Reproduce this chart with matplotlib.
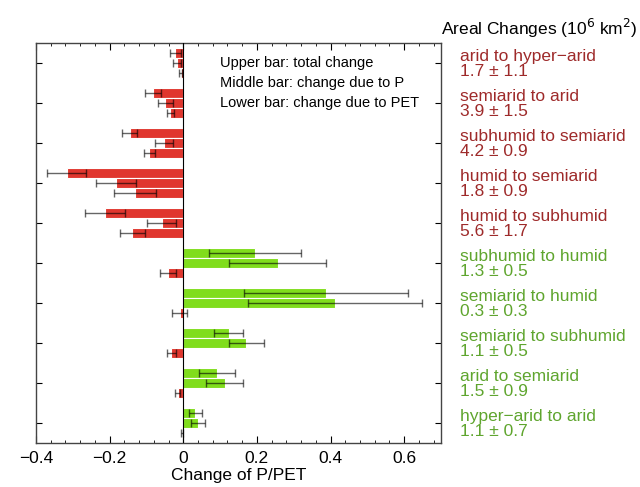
import matplotlib
matplotlib.use("Agg")
import matplotlib.pyplot as plt
import matplotlib.transforms as mtransforms
from matplotlib.ticker import AutoMinorLocator, FixedLocator, FixedFormatter

plt.rcParams['font.family'] = ['Liberation Sans', 'DejaVu Sans']

# transitions, top to bottom
names = ["arid to hyper\u2212arid", "semiarid to arid", "subhumid to semiarid",
         "humid to semiarid", "humid to subhumid", "subhumid to humid",
         "semiarid to humid", "semiarid to subhumid", "arid to semiarid",
         "hyper\u2212arid to arid"]
areas = ["1.7 \u00b1 1.1", "3.9 \u00b1 1.5", "4.2 \u00b1 0.9", "1.8 \u00b1 0.9", "5.6 \u00b1 1.7",
         "1.3 \u00b1 0.5", "0.3 \u00b1 0.3", "1.1 \u00b1 0.5", "1.5 \u00b1 0.9", "1.1 \u00b1 0.7"]
drying = [True, True, True, True, True, False, False, False, False, False]

total = [-0.022, -0.082, -0.146, -0.317, -0.213, 0.194, 0.388, 0.123, 0.092, 0.033]
total_err = [0.015, 0.021, 0.020, 0.052, 0.055, 0.125, 0.222, 0.040, 0.048, 0.017]
due_p = [-0.018, -0.049, -0.052, -0.182, -0.059, 0.256, 0.412, 0.171, 0.112, 0.041]
due_p_err = [0.011, 0.020, 0.025, 0.054, 0.040, 0.131, 0.237, 0.047, 0.049, 0.019]
due_pet = [-0.007, -0.035, -0.092, -0.131, -0.139, -0.042, -0.010, -0.032, -0.015, -0.004]
due_pet_err = [0.004, 0.009, 0.015, 0.057, 0.034, 0.021, 0.021, 0.013, 0.007, 0.002]

xticks = [-0.4, -0.2, 0.0, 0.2, 0.4, 0.6]
xticklabels = ["\u22120.4", "\u22120.2", "0", "0.2", "0.4", "0.6"]

RED = '#E0362E'
GREEN = '#80DD1C'
TXT_RED = '#9E2A2A'
TXT_GREEN = '#5FA52E'

fig = plt.figure(figsize=(6.4, 4.87), dpi=100)
ax = fig.add_axes([36/640, 1-443/487, (441-36)/640, 400/487])

n = len(names)
centers = [n - 0.5 - i for i in range(n)]
offsets = [0.25, 0.0, -0.25]
series = [(total, total_err), (due_p, due_p_err), (due_pet, due_pet_err)]
for (vals, errs), off in zip(series, offsets):
    ys = [c + off for c in centers]
    cols = [RED if v < 0 else GREEN for v in vals]
    ax.barh(ys, vals, height=0.25, color=cols, edgecolor='white', linewidth=0.8, zorder=2)
    ax.errorbar(vals, ys, xerr=errs, fmt='none', ecolor='black', alpha=0.6,
                elinewidth=1.0, capsize=3, capthick=1.0, zorder=3)

ax.axvline(0, color='black', linewidth=0.8, zorder=4)
ax.set_xlim(-0.4, 0.7)
ax.set_ylim(0, n)
ax.xaxis.set_major_locator(FixedLocator(xticks))
ax.xaxis.set_major_formatter(FixedFormatter(xticklabels))
ax.xaxis.set_minor_locator(AutoMinorLocator(5))
ax.set_yticks(centers)
ax.set_yticklabels([])
ax.tick_params(axis='both', which='both', direction='in', top=True, right=True)
ax.tick_params(axis='x', which='major', length=5, labelsize=12.5, pad=6)
ax.tick_params(axis='x', which='minor', length=2.5)
ax.tick_params(axis='y', which='major', length=4)
for s in ax.spines.values():
    s.set_color('#444444')
    s.set_linewidth(1.0)
ax.set_xlabel("Change of P/PET", fontsize=12.5, labelpad=1)

ax.text(0.10, 9.5, "Upper bar: total change", fontsize=10.5, va='center', ha='left')
ax.text(0.10, 9.0, "Middle bar: change due to P", fontsize=10.5, va='center', ha='left')
ax.text(0.10, 8.5, "Lower bar: change due to PET", fontsize=10.5, va='center', ha='left')

trans = mtransforms.blended_transform_factory(fig.transFigure, ax.transData)
lx = 460/640
for i in range(n):
    col = TXT_RED if drying[i] else TXT_GREEN
    ax.text(lx, centers[i] + 0.17, names[i], transform=trans, color=col,
            fontsize=12.5, va='center', ha='left', clip_on=False)
    ax.text(lx, centers[i] - 0.2, areas[i], transform=trans, color=col,
            fontsize=12.5, va='center', ha='left', clip_on=False)

fig.text(441/640, 1-28/487, "Areal Changes (10$^{6}$ km$^{2}$)", fontsize=12.5,
         va='center', ha='left')

fig.savefig("out.png", dpi=100)
